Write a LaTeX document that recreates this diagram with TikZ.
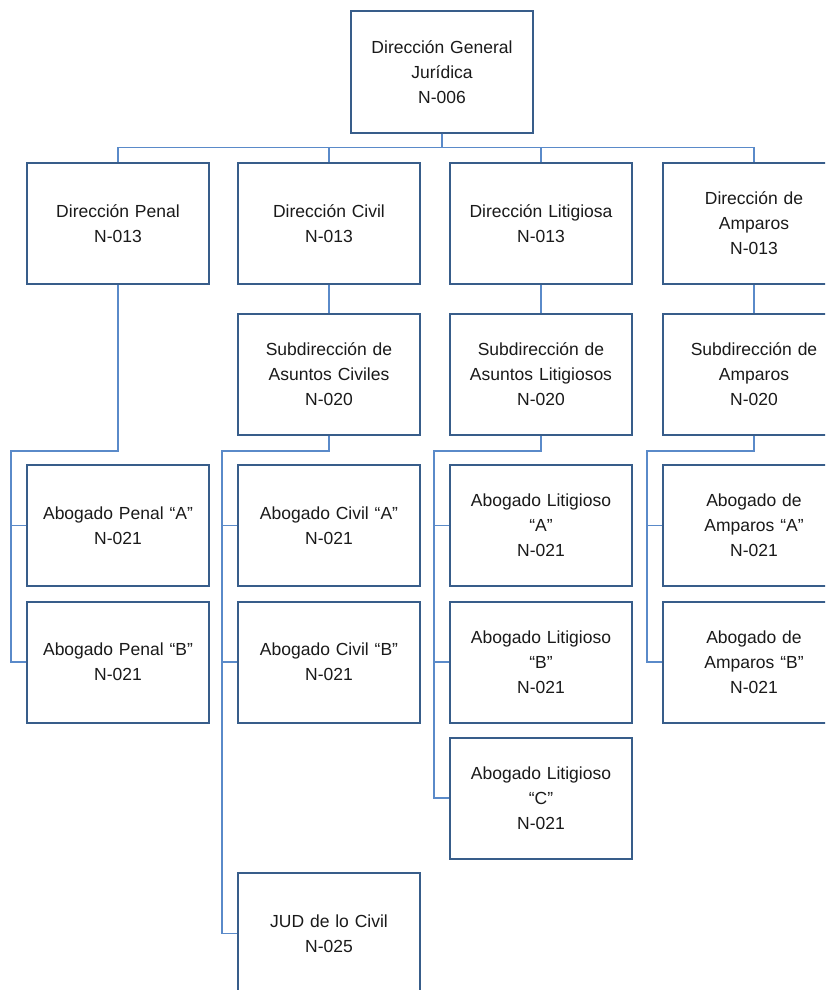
\documentclass[tikz,border=0pt]{standalone}
\usepackage{fontspec}
\setmainfont{Liberation Sans}
\usepackage{xcolor}
\usepackage{tikz}
\usetikzlibrary{positioning}
\definecolor{boxline}{HTML}{385D8A}
\definecolor{linkline}{HTML}{5A8AC9}
\definecolor{textcolor}{HTML}{1A1A1A}

\begin{document}
\begin{tikzpicture}[
    x=1pt, y=-1pt,
    unit/.style={draw=boxline, line width=2pt, fill=white, minimum width=182pt, minimum height=121pt,
      text width=176pt, align=center, text=textcolor, font=\fontsize{17.5}{25}\selectfont},
    link/.style={draw=linkline, line width=1.7pt},
  ]
  \clip (0,0) rectangle (825,990);
  \node[unit] (dgj) at (442,72) {Dirección General\\Jurídica\\N-006};
  \node[unit] (dpen) at (118,223.5) {Dirección Penal\\N-013};
  \node[unit] (dciv) at (329,223.5) {Dirección Civil\\N-013};
  \node[unit] (dlit) at (541,223.5) {Dirección Litigiosa\\N-013};
  \node[unit] (damp) at (754,223.5) {Dirección de\\Amparos\\N-013};
  \node[unit] (sciv) at (329,374.5) {Subdirección de\\Asuntos Civiles\\N-020};
  \node[unit] (slit) at (541,374.5) {Subdirección de\\Asuntos Litigiosos\\N-020};
  \node[unit] (samp) at (754,374.5) {Subdirección de\\Amparos\\N-020};
  \node[unit] (pena) at (118,525.5) {Abogado Penal “A”\\N-021};
  \node[unit] (penb) at (118,662) {Abogado Penal “B”\\N-021};
  \node[unit] (civa) at (329,525.5) {Abogado Civil “A”\\N-021};
  \node[unit] (civb) at (329,662) {Abogado Civil “B”\\N-021};
  \node[unit] (jud) at (329,933.5) {JUD de lo Civil\\N-025};
  \node[unit] (lita) at (541,525.5) {Abogado Litigioso\\“A”\\N-021};
  \node[unit] (litb) at (541,662) {Abogado Litigioso\\“B”\\N-021};
  \node[unit] (litc) at (541,798) {Abogado Litigioso\\“C”\\N-021};
  \node[unit] (ampa) at (754,525.5) {Abogado de\\Amparos “A”\\N-021};
  \node[unit] (ampb) at (754,662) {Abogado de\\Amparos “B”\\N-021};
  \draw[link] (dgj.south) -- ++(0,14) -| (dpen.north);
  \draw[link] (dgj.south) -- ++(0,14) -| (dciv.north);
  \draw[link] (dgj.south) -- ++(0,14) -| (dlit.north);
  \draw[link] (dgj.south) -- ++(0,14) -| (damp.north);
  \draw[link] (dciv) -- (sciv);
  \draw[link] (dlit) -- (slit);
  \draw[link] (damp) -- (samp);
  \draw[link] (dpen.south) -- ++(0,166) -| ([xshift=-15pt]penb.west) -- (penb.west);
  \draw[link] ([xshift=-15pt]pena.west) -- (pena.west);
  \draw[link] (sciv.south) -- ++(0,15) -| ([xshift=-15pt]jud.west) -- (jud.west);
  \draw[link] ([xshift=-15pt]civa.west) -- (civa.west);
  \draw[link] ([xshift=-15pt]civb.west) -- (civb.west);
  \draw[link] (slit.south) -- ++(0,15) -| ([xshift=-15pt]litc.west) -- (litc.west);
  \draw[link] ([xshift=-15pt]lita.west) -- (lita.west);
  \draw[link] ([xshift=-15pt]litb.west) -- (litb.west);
  \draw[link] (samp.south) -- ++(0,15) -| ([xshift=-15pt]ampb.west) -- (ampb.west);
  \draw[link] ([xshift=-15pt]ampa.west) -- (ampa.west);
\end{tikzpicture}
\end{document}
